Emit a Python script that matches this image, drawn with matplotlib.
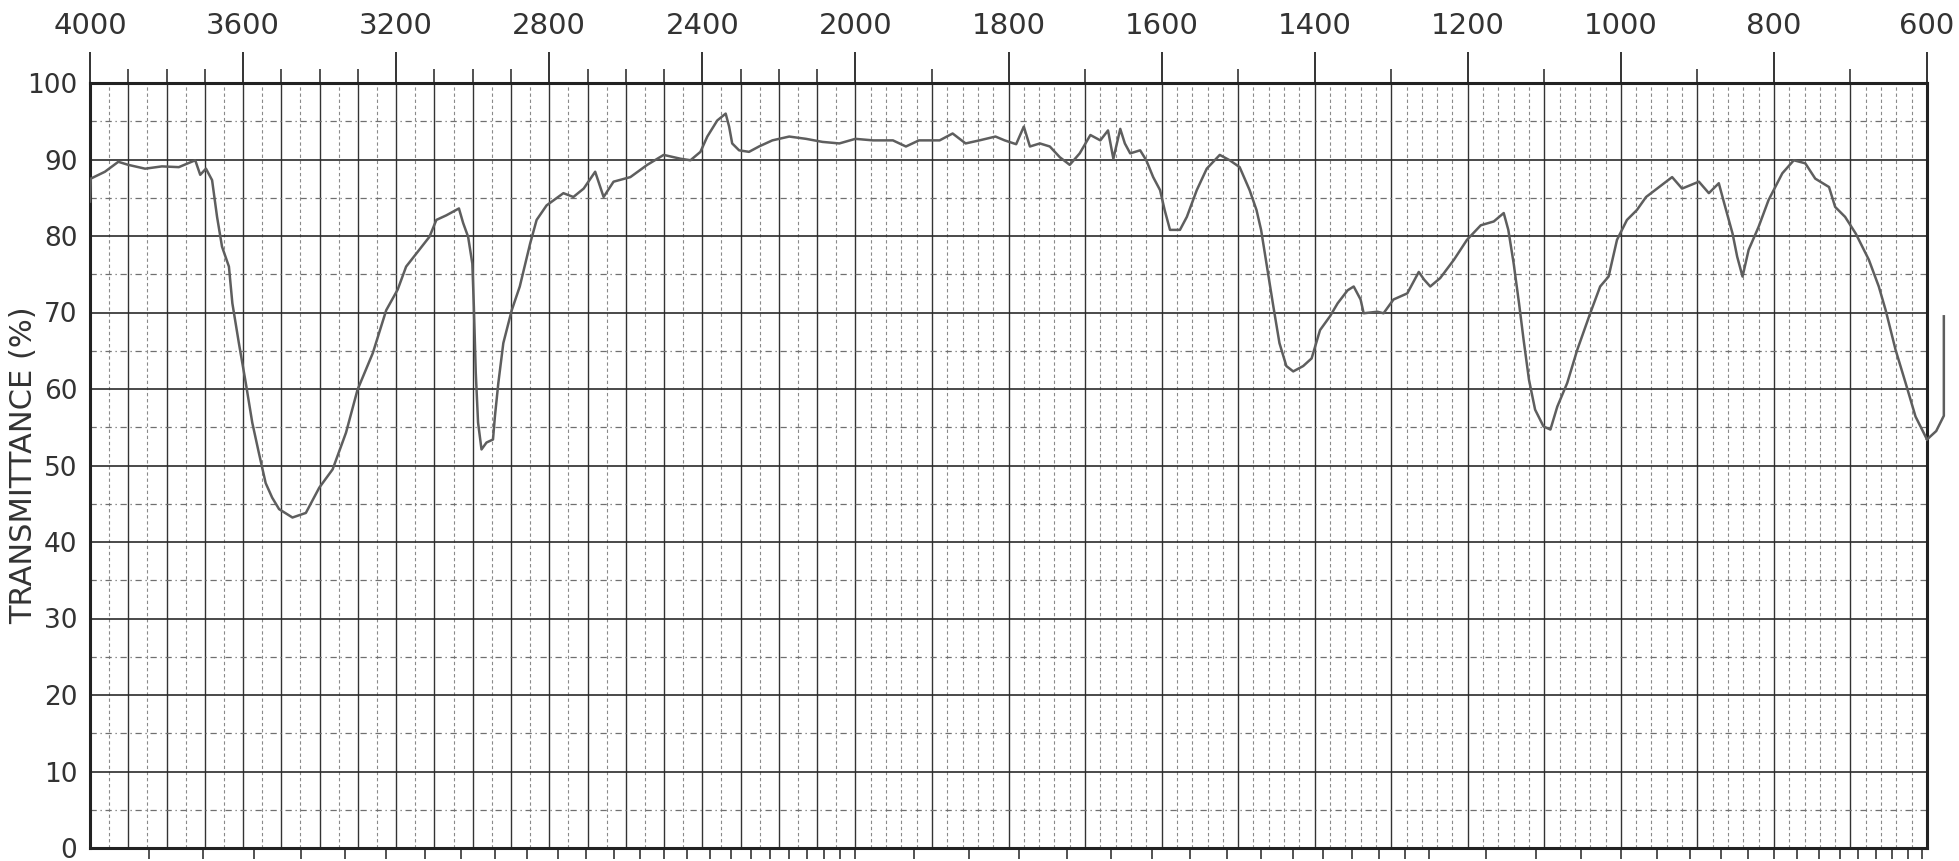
import numpy as np
import matplotlib
matplotlib.use("Agg")
import matplotlib.pyplot as plt

# IR spectrum (wavenumber in cm-1, transmittance in %)
wavenumber = [4000, 3998, 3961, 3926, 3900, 3856, 3812, 3768, 3725, 3712, 3697, 3681,
              3668, 3655, 3637, 3628, 3611, 3593, 3576, 3559, 3541, 3524, 3506, 3471,
              3436, 3401, 3366, 3331, 3301, 3261, 3226, 3196, 3174, 3113, 3095, 3069,
              3036, 3025, 3012, 3001, 2997, 2992, 2986, 2977, 2964, 2947, 2942, 2933,
              2920, 2898, 2877, 2850, 2833, 2807, 2763, 2737, 2710, 2680, 2658, 2632,
              2588, 2544, 2501, 2457, 2431, 2405, 2387, 2361, 2339, 2330, 2322, 2304,
              2278, 2252, 2217, 2173, 2129, 2086, 2042, 2000, 1977, 1951, 1934, 1917,
              1890, 1873, 1856, 1838, 1817, 1805, 1790, 1780, 1772, 1759, 1746, 1733,
              1720, 1707, 1693, 1680, 1670, 1663, 1654, 1648, 1641, 1628, 1620, 1611,
              1602, 1596, 1589, 1576, 1567, 1554, 1541, 1524, 1511, 1498, 1485, 1476,
              1470, 1463, 1454, 1446, 1437, 1428, 1415, 1404, 1393, 1380, 1370, 1357,
              1349, 1340, 1336, 1318, 1310, 1297, 1279, 1264, 1257, 1249, 1236, 1218,
              1201, 1183, 1166, 1153, 1147, 1140, 1133, 1127, 1120, 1112, 1101, 1092,
              1083, 1070, 1057, 1040, 1027, 1016, 1005, 992, 979, 967, 950, 933,
              920, 898, 885, 872, 865, 854, 848, 841, 833, 820, 807, 789,
              774, 759, 746, 728, 720, 707, 693, 676, 663, 654, 641, 628,
              615, 600]
transmittance = [84.5, 87.5, 88.4, 89.7, 89.3, 88.8, 89.1, 89.0, 89.9, 88.0, 88.8, 87.3,
                 82.5, 78.6, 76.0, 71.2, 66.0, 60.8, 55.6, 51.7, 47.7, 45.8, 44.3, 43.2,
                 43.8, 47.1, 49.5, 54.3, 59.9, 64.7, 70.3, 73.0, 76.0, 79.9, 82.1, 82.7,
                 83.6, 81.7, 79.9, 76.4, 70.8, 62.1, 55.6, 52.1, 53.0, 53.4, 56.4, 60.8,
                 66.0, 70.3, 73.4, 79.0, 82.1, 84.0, 85.6, 85.1, 86.2, 88.4, 85.1, 87.1,
                 87.7, 89.3, 90.6, 90.1, 89.9, 91.0, 93.0, 95.1, 96.0, 94.3, 92.1, 91.2,
                 91.0, 91.7, 92.5, 93.0, 92.7, 92.3, 92.1, 92.7, 92.5, 92.5, 91.7, 92.5,
                 92.5, 93.4, 92.1, 92.5, 93.0, 92.5, 92.0, 94.3, 91.7, 92.1, 91.7, 90.3,
                 89.3, 90.8, 93.2, 92.5, 93.8, 90.1, 94.0, 92.1, 90.8, 91.2, 89.9, 87.7,
                 86.0, 83.4, 80.8, 80.8, 82.5, 86.0, 88.8, 90.6, 89.9, 89.0, 86.0, 83.4,
                 80.8, 76.4, 70.8, 66.0, 63.0, 62.3, 63.0, 64.0, 67.7, 69.5, 71.2, 72.9,
                 73.4, 71.7, 69.9, 70.1, 69.9, 71.7, 72.5, 75.3, 74.3, 73.4, 74.5, 76.9,
                 79.5, 81.4, 81.9, 83.0, 80.8, 76.4, 71.2, 66.4, 61.2, 57.3, 55.1, 54.7,
                 57.7, 60.8, 65.1, 69.9, 73.4, 74.7, 79.5, 82.1, 83.4, 85.1, 86.4, 87.7,
                 86.2, 87.1, 85.6, 86.9, 84.3, 80.3, 77.3, 74.7, 78.2, 81.2, 84.7, 88.2,
                 89.9, 89.5, 87.5, 86.4, 83.8, 82.5, 80.3, 76.9, 73.4, 70.3, 65.1, 60.8,
                 56.4, 53.4]

# pen return stroke past the end of the chart
pen_wn = [600, 588, 578, 578]
pen_t = [53.4, 54.5, 56.5, 69.5]

top_ticks = [4000, 3600, 3200, 2800, 2400, 2000, 1800, 1600, 1400, 1200, 1000, 800, 600]
y_ticks = [0, 10, 20, 30, 40, 50, 60, 70, 80, 90, 100]
micron_ticks = list(np.round(np.arange(2.6, 5.0, 0.1), 1)) + \
    list(np.round(np.arange(5.0, 8.0, 0.2), 1)) + list(np.arange(8.0, 16.6, 0.5))


def fwd(x):
    x = np.asarray(x, dtype=float)
    return np.where(x >= 2000, x, 2 * x - 2000)


def inv(y):
    y = np.asarray(y, dtype=float)
    return np.where(y >= 2000, y, (y + 2000) / 2)


plt.rcParams['font.family'] = ['DejaVu Sans']

fig = plt.figure(figsize=(19.59, 8.61), dpi=100)
ax = fig.add_axes([90 / 1959, 13 / 861, (1927 - 90) / 1959, (848 - 83) / 861])
ax.set_xscale('function', functions=(fwd, inv))
ax.set_xlim(4000, 600)
ax.set_ylim(0, 100)

# chart paper grid
solid_v = np.arange(700, 4000, 100)
dot_v = list(np.arange(2050, 4000, 100)) + [w for w in range(620, 2000, 20) if w % 100]
ax.vlines(solid_v, 0, 100, colors='#333333', lw=1.0, zorder=1)
ax.vlines(dot_v, 0, 100, colors='#8a8a8a', lw=0.8, linestyles=(0, (3, 2.5)), zorder=1)
ax.hlines(np.arange(10, 100, 10), 4000, 600, colors='#2b2b2b', lw=1.2, zorder=1)
ax.hlines(np.arange(5, 100, 10), 4000, 600, colors='#707070', lw=0.9,
          linestyles=(0, (5, 3, 1, 3)), zorder=1)

ax.plot(wavenumber, transmittance, color='#5e5e5e', lw=1.8, zorder=3)
ax.plot(pen_wn, pen_t, color='#5e5e5e', lw=1.8, zorder=3, clip_on=False)

# wavelength ticks along the bottom edge
ax.vlines([1e4 / m for m in micron_ticks], -0.014, 0, transform=ax.get_xaxis_transform(),
          colors='#333333', lw=1.2, clip_on=False)

for side in ['left', 'right', 'top', 'bottom']:
    ax.spines[side].set_color('#222222')
    ax.spines[side].set_linewidth(2.2)

ax.xaxis.set_ticks_position('top')
ax.set_xticks(top_ticks)
ax.set_xticklabels([str(t) for t in top_ticks])
ax.set_xticks(np.arange(700, 4000, 100), minor=True)
ax.tick_params(axis='x', which='major', length=22, width=1.4, color='#333333',
               direction='out', pad=9, labelsize=21, labelcolor='#333333')
ax.tick_params(axis='x', which='minor', length=10, width=1.2, color='#333333',
               direction='out')
ax.set_yticks(y_ticks)
ax.set_yticklabels([str(t) for t in y_ticks])
ax.tick_params(axis='y', length=0, pad=9, labelsize=19, labelcolor='#333333')

ax.text(-0.036, 0.5, 'TRANSMITTANCE (%)', transform=ax.transAxes, rotation=90,
        ha='center', va='center', fontsize=22, color='#333333')

fig.savefig('out.png', dpi=100)
